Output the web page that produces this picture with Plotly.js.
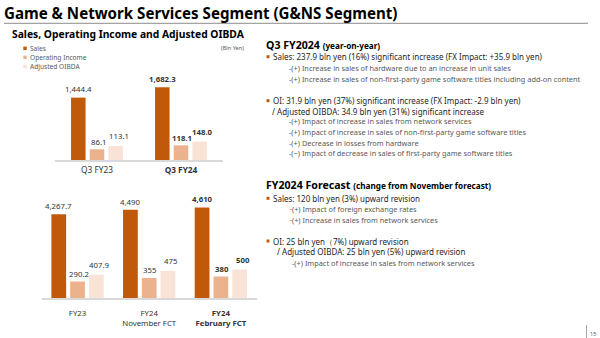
<!DOCTYPE html>
<html><head><meta charset="utf-8">
<script src="https://cdn.plot.ly/plotly-3.0.1.min.js"></script>
<style>html,body{margin:0;padding:0;background:#fff}#chart{width:600px;height:338px}</style>
</head><body><div id="chart"></div>
<script>
// ---- data ----
const seriesNames = ["Sales", "Operating Income", "Adjusted OIBDA"];
const quarterCats = ["Q3 FY23", "Q3 FY24"];
const quarterTickText = ["Q3 FY23", "<b>Q3 FY24</b>"];
const quarterSales = [1444.4, 1682.3];
const quarterOI = [86.1, 118.1];
const quarterOIBDA = [113.1, 148.0];
const quarterDecimals = [1, 1];

const yearCats = ["FY23", "FY24 November FCT", "FY24 February FCT"];
const yearTickText = ["FY23", "FY24<br>November FCT", "<b>FY24<br>February FCT</b>"];
const yearSales = [4267.7, 4490, 4610];
const yearOI = [290.2, 355, 380];
const yearOIBDA = [407.9, 475, 500];
const yearDecimals = [1, 0, 0];

// ---- styling ----
const COLORS = ["#C05A0A", "#EBB28D", "#F9E3D6"];
const FONT = "Noto Sans, DejaVu Sans, sans-serif";
const W = 600, H = 338;
const px = x => x / W, py = y => 1 - y / H;
const LABEL_GAP = [8.3, 7.5, 10];   // px above bar top, per series
const LABEL_DX = [0, 1, 3];         // px horizontal nudge, per series

function fmt(v, d) {
  return v.toLocaleString("en-US", {minimumFractionDigits: d, maximumFractionDigits: d});
}

const topW = 0.173, topPitch = 0.2226;
const botW = 0.206, botPitch = 0.262;

const annotations = [];
const shapes = [];

function barTrace(x, y, idx, decs, xa, ya, w, pitch) {
  // value labels drawn via the trace's own axes
  y.forEach((v, i) => {
    const s = fmt(v, decs[i]);
    annotations.push({
      xref: xa, yref: ya, x: i + (idx - 1) * pitch, y: v,
      text: i === y.length - 1 ? "<b>" + s + "</b>" : s,
      showarrow: false, xanchor: "center", yanchor: "middle",
      yshift: LABEL_GAP[idx], xshift: LABEL_DX[idx],
      font: {family: FONT, size: 7.8, color: "#333333"}
    });
  });
  return {
    type: "bar", x: x, y: y, name: seriesNames[idx],
    xaxis: xa, yaxis: ya,
    width: w, offset: (idx - 1) * pitch - w / 2,
    marker: {color: COLORS[idx]},
    showlegend: false, hoverinfo: "skip"
  };
}

const data = [
  barTrace(quarterCats, quarterSales, 0, quarterDecimals, "x", "y", topW, topPitch),
  barTrace(quarterCats, quarterOI, 1, quarterDecimals, "x", "y2", topW, topPitch),
  barTrace(quarterCats, quarterOIBDA, 2, quarterDecimals, "x", "y2", topW, topPitch),
  barTrace(yearCats, yearSales, 0, yearDecimals, "x2", "y3", botW, botPitch),
  barTrace(yearCats, yearOI, 1, yearDecimals, "x2", "y4", botW, botPitch),
  barTrace(yearCats, yearOIBDA, 2, yearDecimals, "x2", "y4", botW, botPitch)
];

const hiddenY = {visible: false, showgrid: false, zeroline: false, fixedrange: true};
const xBase = {
  type: "category", showline: true, linecolor: "#d9d9d9", linewidth: 2,
  showgrid: false, zeroline: false, ticks: "", fixedrange: true
};

function txt(x, y, text, size, color, extra) {
  annotations.push(Object.assign({
    xref: "paper", yref: "paper", x: px(x), y: py(y), text: text,
    showarrow: false, xanchor: "left", yanchor: "middle",
    font: {family: FONT, size: size, color: color}, borderpad: 0
  }, extra || {}));
}
function sq(x, y, s, color) {
  shapes.push({type: "rect", xref: "paper", yref: "paper",
    x0: px(x), x1: px(x + s), y0: py(y + s / 2), y1: py(y - s / 2),
    fillcolor: color, line: {width: 0}});
}

// Titles
txt(3, 13, "<b>Game &amp; Network Services Segment (G&amp;NS Segment)</b>", 15.1, "#000000");
shapes.push({type: "line", xref: "paper", yref: "paper", x0: px(4), x1: px(588), y0: py(23.3), y1: py(23.3), line: {color: "#8c8c8c", width: 1}});
txt(11, 34, "<b>Sales, Operating Income and Adjusted OIBDA</b>", 10.3, "#000000");

// Legend
const legY = [48.3, 57.3, 66.5];
seriesNames.forEach((n, i) => {
  sq(23.3, legY[i], 3.4, COLORS[i]);
  txt(28.5, legY[i], n, 6.6, "#595959");
});
txt(245, 48.3, "(Bln Yen)", 5.6, "#595959", {xanchor: "right"});

// Right panel
const DARK = "#262626", GREY = "#595959", BUL = "#C05A0A";
const MAIN = 8.0, SUB = 7.35;
txt(265, 45, "<b>Q3 FY2024 <span style='font-size:8.2px'>(year-on-year)</span></b>", 10.6, "#000000");
sq(266.5, 56.7, 3, BUL);
txt(271.5, 56.7, "Sales: 237.9 bln yen (16%) significant increase (FX Impact: +35.9 bln yen)", MAIN, DARK);
txt(287.5, 68.3, "-(+) Increase in sales of hardware due to an increase in unit sales", SUB, GREY);
txt(287.5, 78.6, "-(+) Increase in sales of non-first-party game software titles including add-on content", SUB, GREY);
sq(266.5, 100.7, 3, BUL);
txt(271.5, 100.7, "OI: 31.9 bln yen (37%) significant increase (FX Impact: -2.9 bln yen)", MAIN, DARK);
txt(270.5, 111, "/ Adjusted OIBDA: 34.9 bln yen (31%) significant increase", MAIN, DARK);
txt(287.5, 121.3, "-(+) Impact of increase in sales from network services", SUB, GREY);
txt(287.5, 131.9, "-(+) Impact of increase in sales of non-first-party game software titles", SUB, GREY);
txt(287.5, 142.5, "-(+) Decrease in losses from hardware", SUB, GREY);
txt(287.5, 152.8, "-(\u2212) Impact of decrease in sales of first-party game software titles", SUB, GREY);

txt(265, 185, "<b>FY2024 Forecast <span style='font-size:8.2px'>(change from November forecast)</span></b>", 10.6, "#000000");
sq(266.5, 198.3, 3, BUL);
txt(271.5, 198.3, "Sales: 120 bln yen (3%) upward revision", MAIN, DARK);
txt(288.5, 209.3, "\u00b7(+) Impact of foreign exchange rates", SUB, GREY);
txt(288.5, 220, "\u00b7(+) Increase in sales from network services", SUB, GREY);
sq(266.5, 241, 3, BUL);
txt(271.5, 241, "OI: 25 bln yen\uff087%) upward revision", MAIN, DARK);
txt(275.5, 251.7, "/ Adjusted OIBDA: 25 bln yen (5%) upward revision", MAIN, DARK);
txt(290.5, 262.7, "-(+) Impact of increase in sales from network services", SUB, GREY);

// page number
shapes.push({type: "line", xref: "paper", yref: "paper", x0: px(586.5), x1: px(586.5), y0: py(325), y1: py(338), line: {color: "#a6a6a6", width: 1}});
txt(593, 333.5, "15", 5.6, "#595959", {xanchor: "center"});

const layout = {
  width: W, height: H, margin: {l: 0, r: 0, t: 0, b: 0},
  paper_bgcolor: "#ffffff", plot_bgcolor: "rgba(0,0,0,0)",
  showlegend: false, barmode: "group",
  xaxis: Object.assign({}, xBase, {domain: [px(55), px(223)], anchor: "y", tickvals: quarterCats, ticktext: quarterTickText, ticklabelstandoff: 1,
    tickfont: {family: FONT, size: 8.3, color: "#333333"}}),
  yaxis: Object.assign({}, hiddenY, {domain: [py(160), py(80)], range: [0, 1852], anchor: "x"}),
  yaxis2: Object.assign({}, hiddenY, {overlaying: "y", range: [0, 645], anchor: "x"}),
  xaxis2: Object.assign({}, xBase, {domain: [px(41.7), px(256.7)], anchor: "y3", tickvals: yearCats, ticktext: yearTickText, ticklabelstandoff: 6,
    tickfont: {family: FONT, size: 7.8, color: "#333333"}}),
  yaxis3: Object.assign({}, hiddenY, {domain: [py(298.3), py(200)], range: [0, 4990], anchor: "x2"}),
  yaxis4: Object.assign({}, hiddenY, {overlaying: "y3", range: [0, 1710], anchor: "x2"}),
  annotations: annotations, shapes: shapes,
  font: {family: FONT}
};

Plotly.newPlot("chart", data, layout, {displayModeBar: false, staticPlot: true});
</script>
</body></html>
